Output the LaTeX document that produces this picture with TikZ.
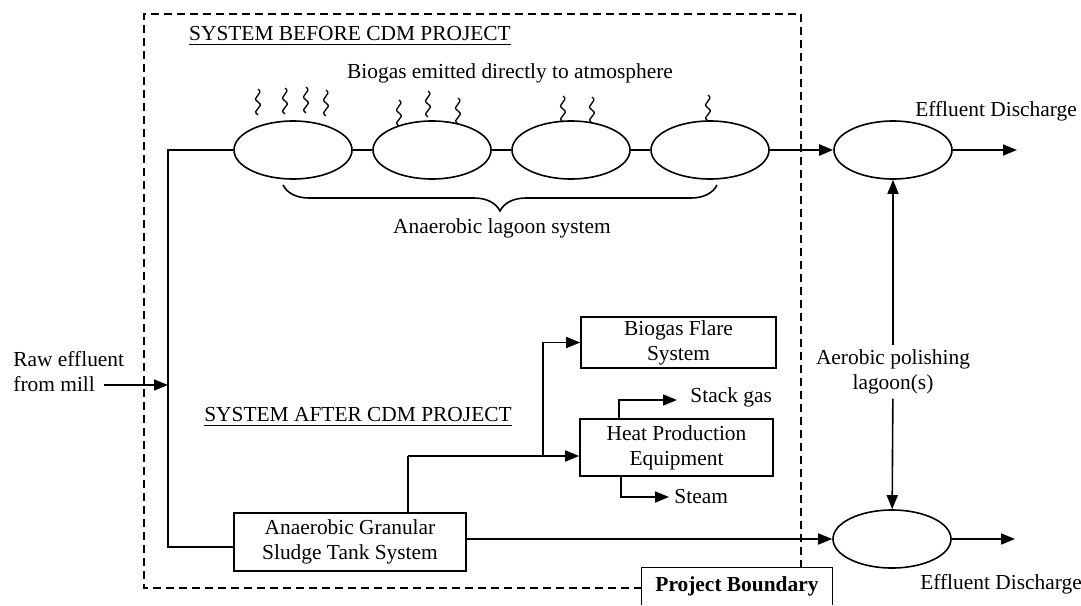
\documentclass[tikz,border=0pt]{standalone}
\usepackage{fontspec}
\setmainfont{Liberation Serif}
\usetikzlibrary{shapes.geometric,arrows.meta,decorations.pathreplacing}
\newcommand\sqg[2]{\draw[wig] (#1,#2) .. controls ({#1-8},{#2-5}) and ({#1+8},{#2-8}) .. ({#1},{#2-13}) .. controls ({#1-8},{#2-18}) and ({#1+7},{#2-21}) .. ({#1},{#2-26});}
\begin{document}
\begin{tikzpicture}[x=0.5pt,y=-0.5pt,
 every node/.style={font=\fontsize{10.7}{12.5}\selectfont, inner sep=0pt},
 lag/.style={draw, ellipse, line width=0.8pt, minimum width=59pt, minimum height=29pt},
 box/.style={draw, rectangle, line width=0.8pt, align=center},
 ln/.style={line width=0.8pt},
 arr/.style={line width=0.8pt, -{Triangle[length=7pt,width=5.5pt]}},
 bnd/.style={line width=1pt, dash pattern=on 4pt off 2.5pt},
 wig/.style={line width=0.65pt},
 lbl/.style={align=center}]
\useasboundingbox (0,0) rectangle (1081,605);
% lagoons
\node[lag] (e1) at (293,150) {};
\node[lag] (e2) at (432,150) {};
\node[lag] (e3) at (571,150) {};
\node[lag] (e4) at (710,150) {};
\node[lag] (ae1) at (893,150) {};
\node[lag] (ae2) at (892,539) {};
% texts
\node (tb) at (350,36) {\underline{SYSTEM BEFORE CDM PROJECT}};
\node (bg) at (510,73) {Biogas emitted directly to atmosphere};
\node (als) at (502,228) {Anaerobic lagoon system};
\node[align=left, anchor=west] (raw) at (13,372) {Raw effluent\\from mill};
\node (ta) at (358,417) {\underline{SYSTEM AFTER CDM PROJECT}};
\node[box, minimum width=97.5pt, minimum height=25.5pt] (flare) at (678.5,342.5) {Biogas Flare\\System};
\node[box, minimum width=96.5pt, minimum height=28.5pt] (heat) at (676.5,447.5) {Heat Production\\Equipment};
\node[box, minimum width=116pt, minimum height=29pt] (agt) at (350,542) {Anaerobic Granular\\Sludge Tank System};
\node[anchor=west] (stack) at (690,397) {Stack gas};
\node[anchor=west] (steam) at (674,497) {Steam};
\node[lbl, inner ysep=2pt] (apl) at (893,372) {Aerobic polishing\\lagoon(s)};
\node (ed1) at (996,111) {Effluent Discharge};
\node (ed2) at (1001,584) {Effluent Discharge};
\node[font=\fontsize{10.7}{12.5}\selectfont\bfseries, minimum width=95pt, minimum height=18.5pt] (pb) at (737,586.5) {Project Boundary};
\draw[ln] (pb.south west) -- (pb.north west) -- (pb.north east) -- (pb.south east);
% boundary
\coordinate (bl) at (144,588);
\coordinate (tl) at (144,14);
\coordinate (tr) at (801,14);
\draw[bnd] (pb.west |- bl) -- (bl) -- (tl) -- (tr) -- (tr |- pb.north);
% squiggles
\sqg{258}{115}\sqg{285}{114}\sqg{306}{113}\sqg{326}{116}
\sqg{399}{126}\sqg{428}{117}\sqg{458}{124}
\sqg{563}{122}\sqg{592}{123}
\sqg{708}{121}
% brace
\coordinate (b1) at (283,185);
\coordinate (b2) at (717,185);
\draw[ln, decorate, decoration={brace, mirror, amplitude=13pt}] (b1) -- (b2);
% connectors
\draw[ln] (e1) -- (e2);
\draw[ln] (e2) -- (e3);
\draw[ln] (e3) -- (e4);
\draw[arr, line width=1.2pt] (e4) -- (ae1);
\coordinate (o1) at (1017,150);
\coordinate (o2) at (1015,539);
\draw[arr] (ae1) -- (o1);
\draw[arr] (ae2) -- (o2);
\coordinate (jt) at (168,150);
\coordinate (jb) at (168,547);
\coordinate (jin) at (168,385);
\coordinate (rs) at (104,385);
\draw[ln] (e1.west) -- (jt) -- (jb) -- (agt.west |- jb);
\draw[arr] (rs) -- (jin);
\draw[arr] (agt.east |- ae2) -- (ae2.west);
\coordinate (ja) at (408,456);
\coordinate (jf) at (543,456);
\draw[ln] (agt.north -| ja) -- (ja);
\draw[arr] (ja) -- (heat.west |- ja);
\draw[arr] (jf) |- (flare.west);
\coordinate (sk) at (619,400);
\coordinate (ske) at (677,400);
\draw[arr] (heat.north -| sk) -- (sk) -- (ske);
\coordinate (sm) at (621,497);
\coordinate (sme) at (669,497);
\draw[arr] (heat.south -| sm) -- (sm) -- (sme);
\draw[arr] (apl) -- (ae1);
\draw[arr] (apl) -- (ae2);
\end{tikzpicture}
\end{document}
